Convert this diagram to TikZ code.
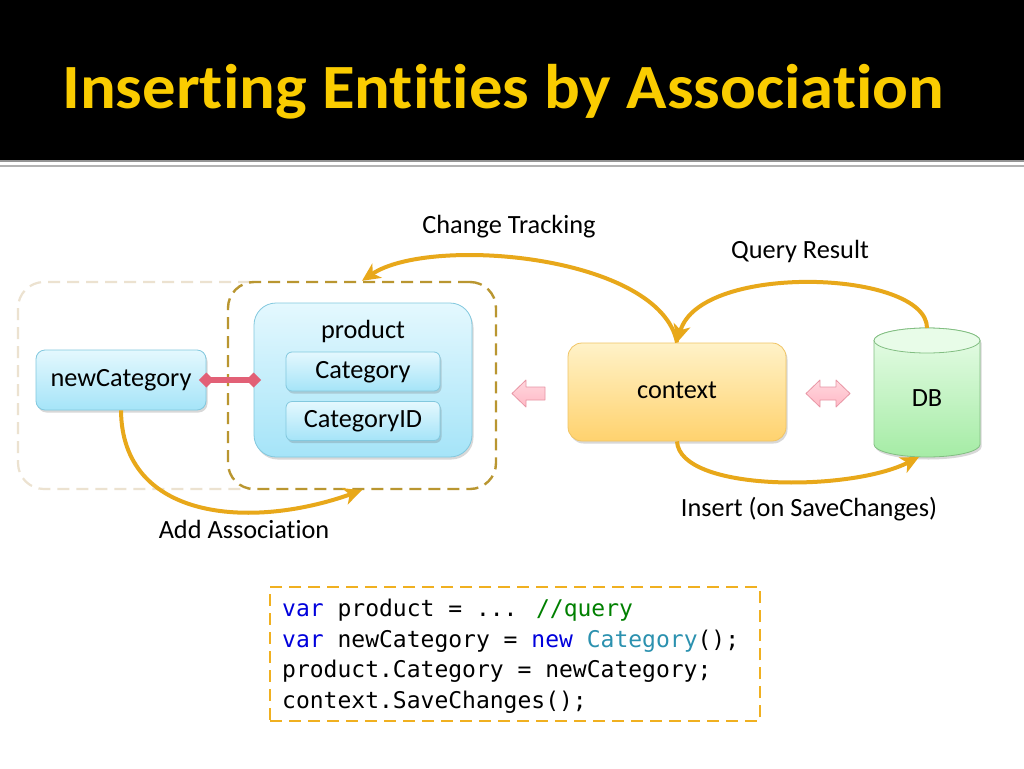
\documentclass[tikz,border=0pt]{standalone}
\usepackage{fontspec}
\setmainfont{Carlito}[RawFeature={-liga;-clig;-dlig}]
\newfontfamily\titlefont{Carlito}[FakeStretch=1.06, RawFeature={-liga;-clig;-dlig}]
\newfontfamily\codefont{DejaVu Sans Mono}
\usetikzlibrary{arrows.meta,shadows}
\definecolor{titley}{RGB}{250,204,0}
\definecolor{bluetop}{RGB}{228,248,254}
\definecolor{bluebot}{RGB}{165,228,248}
\definecolor{blueedge}{RGB}{130,200,222}
\definecolor{ctxtop}{RGB}{255,242,200}
\definecolor{ctxbot}{RGB}{255,210,110}
\definecolor{ctxedge}{RGB}{240,196,100}
\definecolor{dbtopc}{RGB}{232,252,232}
\definecolor{dbbot}{RGB}{165,236,165}
\definecolor{dbedge}{RGB}{130,190,130}
\definecolor{pinktop}{RGB}{255,215,222}
\definecolor{pinkbot}{RGB}{255,185,198}
\definecolor{pinkedge}{RGB}{232,150,165}
\definecolor{diamc}{RGB}{226,96,118}
\definecolor{flowc}{RGB}{232,168,26}
\definecolor{grpc}{RGB}{185,150,48}
\definecolor{faintc}{RGB}{236,226,208}
\definecolor{codec}{RGB}{240,176,32}
\definecolor{kwc}{RGB}{0,0,220}
\definecolor{cmc}{RGB}{0,128,0}
\definecolor{tyc}{RGB}{43,145,175}
\tikzset{
  txt/.style={font=\fontsize{26.3}{30}\selectfont, text height=17pt, text depth=4pt, inner sep=0pt},
  codeline/.style={anchor=base west, inner sep=0pt, font=\codefont\fontsize{23}{28}\selectfont},
  softshadow/.style={drop shadow={shadow xshift=1.5pt, shadow yshift=-2.5pt, opacity=0.25, fill=black!60}},
  bluebox/.style={draw=blueedge, line width=0.8pt, top color=bluetop, bottom color=bluebot, softshadow},
  ctxbox/.style={draw=ctxedge, line width=0.8pt, top color=ctxtop, bottom color=ctxbot, rounded corners=14pt, softshadow},
  grpbox/.style={draw=grpc, line width=2.4pt, dash pattern=on 12pt off 7pt, rounded corners=26pt},
  faintbox/.style={draw=faintc, line width=2.2pt, dash pattern=on 12pt off 7pt, rounded corners=26pt},
  codebox/.style={draw=codec, line width=2.5pt, dash pattern=on 12pt off 7pt},
  flow/.style={draw=flowc, line width=4pt, -{Stealth[length=18pt,width=17pt,inset=5pt]}},
  pinkarrow/.style={draw=pinkedge, line width=0.8pt, top color=pinktop, bottom color=pinkbot, line join=round},
  diamline/.style={draw=diamc, line width=5.5pt, {Diamond[length=15pt,width=15pt]}-{Diamond[length=15pt,width=15pt]}, shorten <=-7.5pt, shorten >=-7.5pt},
}
\begin{document}
\begin{tikzpicture}[x=1pt,y=-1pt]
\useasboundingbox (0,0) rectangle (1024,768);
\fill[white] (0,0) rectangle (1024,768);
% title bar
\fill[black] (0,0) rectangle (1024,160);
\fill[black!42] (0,160) rectangle (1024,162.3);
\fill[black!30] (0,164.7) rectangle (1024,167.3);
\node[anchor=base west, inner sep=0pt, text=titley, font=\titlefont\bfseries\fontsize{63}{70}\selectfont] (title) at (62,108.3) {Inserting Entities by Association};

% faint group (left)
\draw[faintbox] (250,282) -- (18,282) -- (18,489) -- (250,489);
% dark group
\node[grpbox, minimum width=268pt, minimum height=207pt, inner sep=0pt] (grp) at (362,385.5) {};

% product box
\node[bluebox, rounded corners=22pt, minimum width=218pt, minimum height=154pt, inner sep=0pt] (prod) at (363,380) {};
\node[txt] (prodlabel) at (363,332) {product};
\node[bluebox, txt, rounded corners=6pt, minimum width=154pt, minimum height=39pt] (cat) at (363,371.5) {Category};
\node[bluebox, txt, rounded corners=6pt, minimum width=154pt, minimum height=39pt] (catid) at (363,421) {CategoryID};

% newCategory
\node[bluebox, txt, rounded corners=9pt, minimum width=170pt, minimum height=60pt] (nc) at (121,380) {newCategory};

% context
\node[ctxbox, txt, minimum width=218pt, minimum height=98pt] (ctx) at (677,392) {context};

% DB cylinder
\path[draw=dbedge, line width=0.8pt, top color=dbtopc, bottom color=dbbot, softshadow]
  (874,340.5) -- (874,444.5) arc[start angle=180, end angle=360, x radius=53pt, y radius=12.5pt]
  -- (980,340.5) arc[start angle=0, end angle=180, x radius=53pt, y radius=12.5pt] -- cycle;
\draw[dbedge, line width=0.8pt, fill=dbtopc] (927,340.5) ellipse[x radius=53pt, y radius=12.5pt];
\node[txt] (db) at (927,400) {DB};
\coordinate (dbtop) at (927,328);
\coordinate (dbbottom) at (919,457);

% pink block arrows
\path[pinkarrow] (545,387) -- (526,387) -- (526,380) -- (512,393.5) -- (526,407) -- (526,400) -- (545,400) -- cycle;
\path[pinkarrow] (820,387) -- (820,380) -- (806,393.5) -- (820,407) -- (820,400) -- (836,400) -- (836,407) -- (850,393.5) -- (836,380) -- (836,387) -- cycle;

% diamond association line
\draw[diamline] (nc.east) -- (prod.west);

% orange flows
\draw[flow] (ctx.north) .. controls (660,255) and (430,235) .. (grp.north);
\draw[flow] (dbtop) .. controls (927,270) and (700,262) .. (ctx.north);
\draw[flow] (ctx.south) .. controls (680,492) and (850,492) .. (dbbottom);
\draw[flow] (nc.south) .. controls (122,520) and (250,530) .. (grp.south);

% labels
\node[txt] (lblct) at (509,227) {Change Tracking};
\node[txt] (lblqr) at (800,252) {Query Result};
\node[txt] (lblins) at (809,510) {Insert (on SaveChanges)};
\node[txt] (lbladd) at (244,532) {Add Association};

% code box
\node[codebox, minimum width=490pt, minimum height=134pt, inner sep=0pt] (codebox) at (515,654) {};
\node[codeline] (code1) at (282,616.5) {\textcolor{kwc}{var} product = ... \textcolor{cmc}{//query}};
\node[codeline] (code2) at (282,647) {\textcolor{kwc}{var} newCategory = \textcolor{kwc}{new} \textcolor{tyc}{Category}();};
\node[codeline] (code3) at (282,677.5) {product.Category = newCategory;};
\node[codeline] (code4) at (282,708) {context.SaveChanges();};
\end{tikzpicture}
\end{document}
